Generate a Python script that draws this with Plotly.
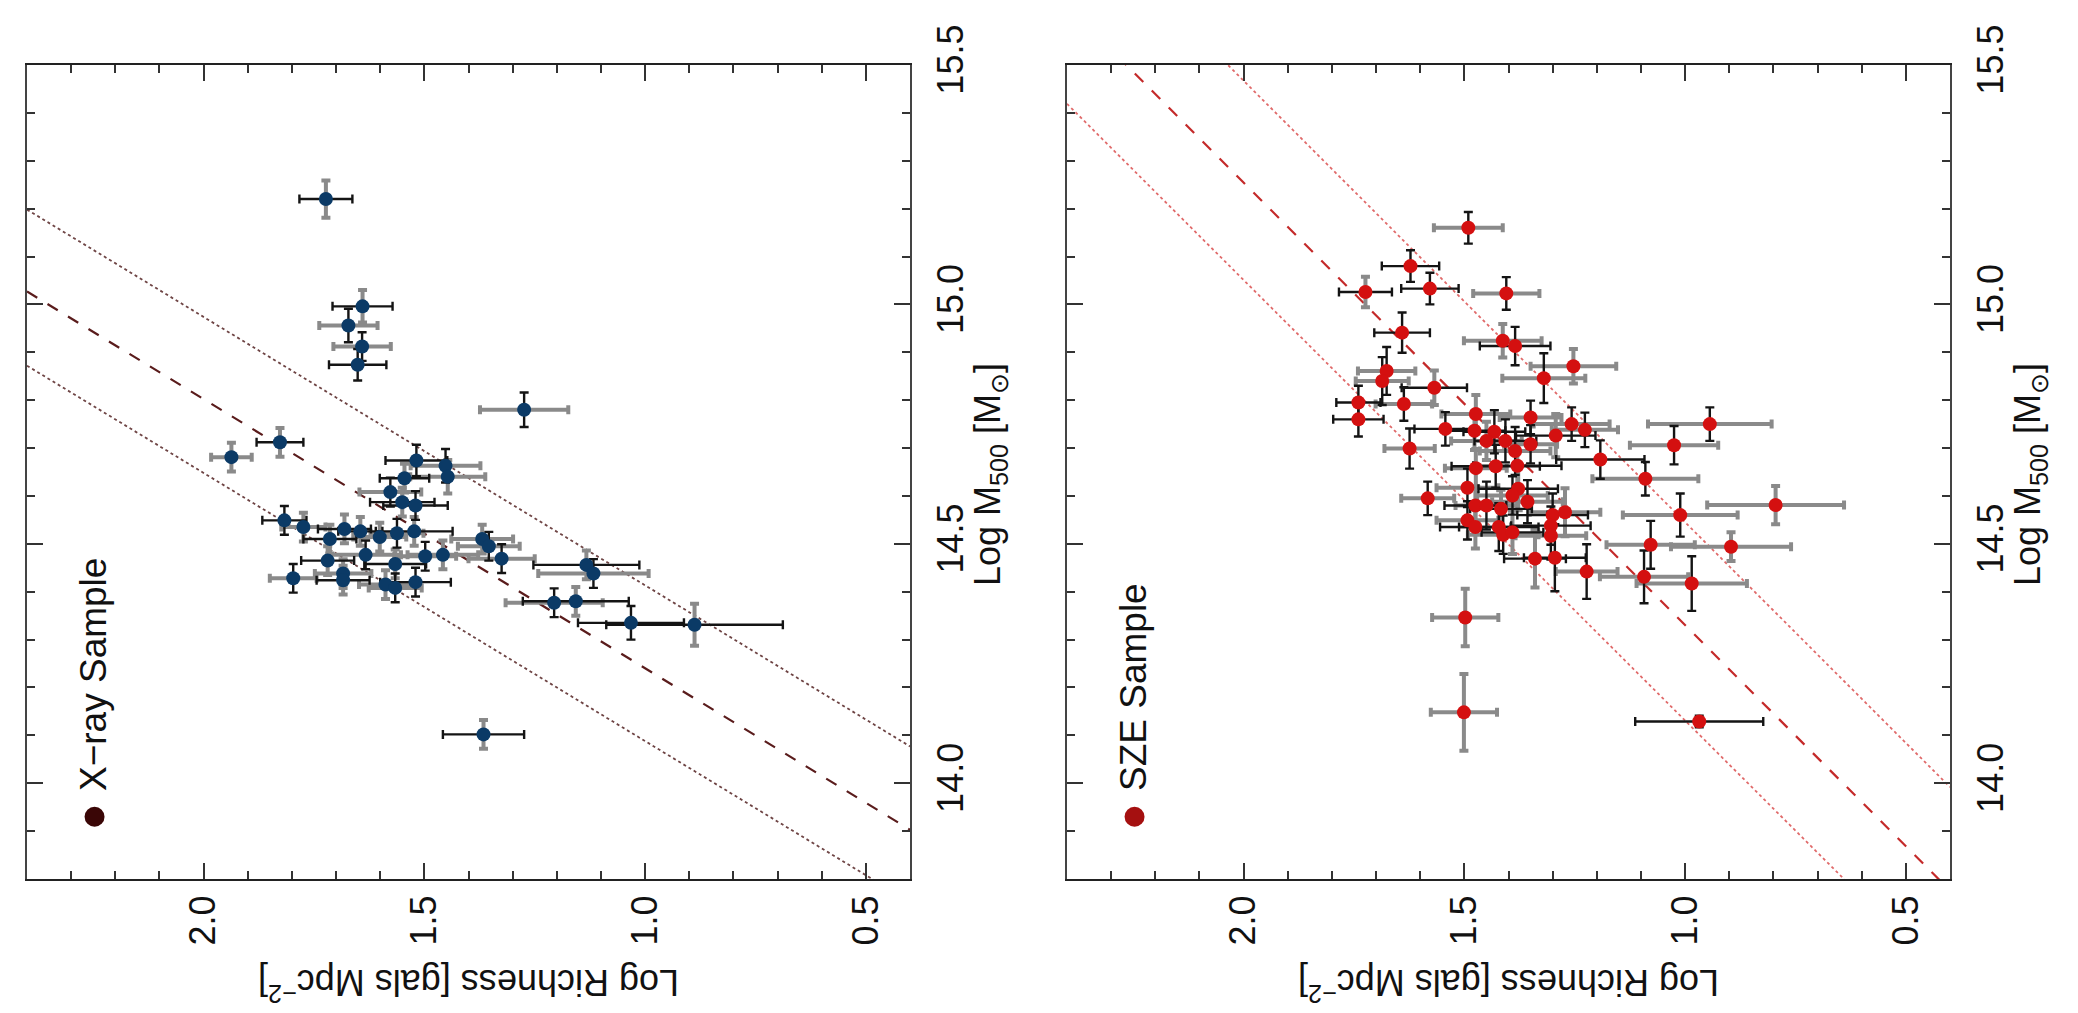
import plotly.graph_objects as go

# ---------------- X-ray sample (left panel) ----------------
xr_rich = [1.723, 1.640, 1.672, 1.641, 1.651, 1.274, 1.827, 1.937, 1.518, 1.452,
           1.447, 1.545, 1.577, 1.550, 1.520, 1.817, 1.774, 1.681, 1.645, 1.714,
           1.601, 1.562, 1.523, 1.369, 1.354, 1.719, 1.633, 1.566, 1.498, 1.458,
           1.325, 1.797, 1.684, 1.684, 1.588, 1.566, 1.520, 1.133, 1.117, 1.206,
           1.157, 1.032, 0.888, 1.366]
xr_mass = [15.220, 14.996, 14.956, 14.912, 14.874, 14.780, 14.712, 14.681, 14.674, 14.663,
           14.640, 14.637, 14.608, 14.587, 14.580, 14.549, 14.535, 14.531, 14.526, 14.510,
           14.514, 14.522, 14.526, 14.510, 14.495, 14.465, 14.477, 14.458, 14.474, 14.477,
           14.469, 14.428, 14.438, 14.424, 14.415, 14.408, 14.420, 14.456, 14.438, 14.377,
           14.380, 14.335, 14.331, 14.102]
xr_err_rich = [0.060, 0.068, 0.066, 0.065, 0.065, 0.100, 0.053, 0.046, 0.070, 0.079,
               0.085, 0.056, 0.070, 0.073, 0.073, 0.050, 0.050, 0.060, 0.050, 0.060,
               0.060, 0.060, 0.087, 0.070, 0.070, 0.060, 0.080, 0.070, 0.070, 0.080,
               0.075, 0.053, 0.064, 0.060, 0.060, 0.060, 0.080, 0.120, 0.125, 0.110,
               0.120, 0.120, 0.200, 0.092]
xr_err_mass = [0.039, 0.034, 0.035, 0.030, 0.033, 0.036, 0.030, 0.030, 0.033, 0.035,
               0.035, 0.030, 0.030, 0.030, 0.030, 0.030, 0.030, 0.030, 0.030, 0.030,
               0.030, 0.030, 0.030, 0.030, 0.030, 0.030, 0.030, 0.030, 0.030, 0.030,
               0.030, 0.030, 0.030, 0.030, 0.030, 0.030, 0.030, 0.030, 0.030, 0.030,
               0.030, 0.035, 0.044, 0.030]
# error-bar shade per point: g = grey, k = black
xr_shade_rich = "kkggkgkgkg" "gkgkkkgkkk" "ggkggkgkgg" "gggkggkkgg" "kkkk"
xr_shade_mass = "ggkkkkggkk" "ggkgkkgggg" "gkggkgkgkg" "kkgggkkgkk" "gkgg"
xr_fit_rich = [2.4, 0.4]
xr_fit_mass = [15.027, 13.903]
xr_fit_upper = [15.198, 14.077]
xr_fit_lower = [14.872, 13.752]

# ---------------- SZE sample (right panel) ----------------
sz_rich = [1.491, 1.622, 1.724, 1.578, 1.405, 1.641, 1.413, 1.385, 1.253, 1.676,
           1.686, 1.320, 1.568, 1.740, 1.637, 1.740, 0.944, 1.025, 1.624, 1.192,
           1.090, 0.795, 1.583, 1.011, 1.543, 1.474, 1.350, 1.257, 1.227, 1.477,
           1.432, 1.450, 1.407, 1.350, 1.293, 1.385, 1.474, 1.429, 1.380, 1.493,
           1.378, 1.391, 1.357, 1.475, 1.450, 1.417, 1.300, 1.272, 1.493, 1.475,
           1.422, 1.412, 1.391, 1.304, 1.304, 1.078, 0.896, 1.093, 0.985, 1.340,
           1.295, 1.223, 1.498, 1.501, 0.968]
sz_mass = [15.160, 15.080, 15.026, 15.033, 15.023, 14.941, 14.924, 14.913, 14.871, 14.861,
           14.840, 14.846, 14.826, 14.795, 14.792, 14.760, 14.750, 14.706, 14.699, 14.676,
           14.636, 14.581, 14.595, 14.560, 14.740, 14.771, 14.764, 14.750, 14.738, 14.736,
           14.734, 14.715, 14.715, 14.708, 14.726, 14.694, 14.658, 14.662, 14.663, 14.617,
           14.615, 14.601, 14.588, 14.580, 14.580, 14.573, 14.560, 14.566, 14.549, 14.535,
           14.535, 14.519, 14.524, 14.538, 14.517, 14.498, 14.494, 14.431, 14.417, 14.469,
           14.471, 14.442, 14.346, 14.148, 14.129]
sz_err_rich = [0.078, 0.065, 0.060, 0.065, 0.075, 0.063, 0.088, 0.080, 0.097, 0.065,
               0.060, 0.094, 0.074, 0.050, 0.064, 0.057, 0.140, 0.100, 0.057, 0.100,
               0.120, 0.155, 0.060, 0.130, 0.070, 0.078, 0.070, 0.086, 0.075, 0.070,
               0.070, 0.080, 0.070, 0.060, 0.090, 0.080, 0.070, 0.100, 0.100, 0.070,
               0.090, 0.080, 0.080, 0.070, 0.070, 0.070, 0.080, 0.080, 0.070, 0.080,
               0.090, 0.080, 0.070, 0.090, 0.080, 0.100, 0.136, 0.100, 0.125, 0.070,
               0.070, 0.070, 0.075, 0.075, 0.145]
sz_err_mass = [0.033, 0.033, 0.032, 0.033, 0.034, 0.042, 0.035, 0.040, 0.036, 0.050,
               0.050, 0.052, 0.036, 0.035, 0.035, 0.036, 0.035, 0.040, 0.042, 0.040,
               0.035, 0.040, 0.035, 0.045, 0.035, 0.040, 0.035, 0.035, 0.036, 0.040,
               0.045, 0.040, 0.045, 0.040, 0.045, 0.050, 0.040, 0.045, 0.050, 0.040,
               0.045, 0.040, 0.045, 0.040, 0.050, 0.040, 0.045, 0.050, 0.040, 0.045,
               0.050, 0.040, 0.045, 0.040, 0.050, 0.050, 0.030, 0.055, 0.057, 0.060,
               0.070, 0.057, 0.060, 0.080, 0.012]
sz_shade_rich = "gkkkgkgkgg" "ggkkgkgggk" "ggggkggggk" "kgkgkggkkg" "kggkgkkggk" "kgkkgggggk" "kgggk"
sz_shade_mass = "kkgkkkgkgk" "kkgkkkkkkk" "kgkkkgkkkg" "kgkkgkgkgk" "gkkgkgkgkg" "kkgkkkgkkg" "kkggk"
sz_fit_rich = [2.4, 0.4]
sz_fit_mass = [15.624, 13.776]
sz_fit_upper = [15.836, 13.992]
sz_fit_lower = [15.419, 13.579]

legend_rich = 2.247
legend_mass = 13.93

FONT = "Liberation Sans, Arial, Helvetica, sans-serif"
W, H = 2078, 1013

fig = go.Figure()


def add_panel(r, m, er, em, shr, shm, color, xa, ya):
    styles = (("g", "#8a8a8a", 4.0), ("k", "#141414", 2.4))
    for flag, col, th in styles:
        for which, shades, errs in (("x", shr, er), ("y", shm, em)):
            idx = [i for i, s in enumerate(shades) if s == flag]
            if not idx:
                continue
            err = dict(type="data", array=[errs[i] for i in idx], color=col,
                       thickness=th, width=4.5, visible=True)
            kw = {"error_x": err} if which == "x" else {"error_y": err}
            fig.add_trace(go.Scatter(
                x=[r[i] for i in idx], y=[m[i] for i in idx], mode="markers",
                marker=dict(size=1, opacity=0), xaxis=xa, yaxis=ya,
                showlegend=False, hoverinfo="skip", **kw))
    fig.add_trace(go.Scatter(x=r, y=m, mode="markers",
                             marker=dict(size=14, color=color, line=dict(width=0)),
                             xaxis=xa, yaxis=ya, showlegend=False))


def add_fit(fr, fm, fu, fl, dcol, ocol, xa, ya):
    for yy, col, dash, w in ((fu, ocol, "dot", 1.8), (fl, ocol, "dot", 1.8),
                             (fm, dcol, "12px,12px", 2.2)):
        fig.add_trace(go.Scatter(x=fr, y=yy, mode="lines",
                                 line=dict(color=col, width=w, dash=dash),
                                 xaxis=xa, yaxis=ya, showlegend=False,
                                 hoverinfo="skip"))


add_fit(xr_fit_rich, xr_fit_mass, xr_fit_upper, xr_fit_lower,
        "#5a1c1c", "#6e4444", "x", "y")
add_panel(xr_rich, xr_mass, xr_err_rich, xr_err_mass, xr_shade_rich,
          xr_shade_mass, "#0b3a66", "x", "y")
add_fit(sz_fit_rich, sz_fit_mass, sz_fit_upper, sz_fit_lower,
        "#c42a2a", "#e06a6a", "x2", "y2")
add_panel(sz_rich, sz_mass, sz_err_rich, sz_err_mass, sz_shade_rich,
          sz_shade_mass, "#d41010", "x2", "y2")

# legend dots
fig.add_trace(go.Scatter(x=[legend_rich], y=[legend_mass], mode="markers",
                         marker=dict(size=20, color="#3a0606"),
                         xaxis="x", yaxis="y", showlegend=False))
fig.add_trace(go.Scatter(x=[legend_rich], y=[legend_mass], mode="markers",
                         marker=dict(size=20, color="#a51010"),
                         xaxis="x2", yaxis="y2", showlegend=False))

tickfont = dict(size=36, family=FONT, color="#111")


def xaxis(domain, anchor):
    return dict(domain=domain, anchor=anchor, range=[2.4, 0.4], dtick=0.5, tick0=0,
                tickformat=".1f", ticks="inside", ticklen=16, tickwidth=2,
                tickcolor="#333", showline=True, linecolor="#222", linewidth=2,
                mirror="ticks", showgrid=False, zeroline=False, tickangle=-90,
                tickfont=tickfont, ticklabelstandoff=0, automargin=False,
                minor=dict(dtick=0.1, tick0=0, ticks="inside", ticklen=8,
                           tickwidth=2, tickcolor="#333", showgrid=False))


def yaxis(anchor):
    return dict(domain=[1 - 879 / H, 1 - 65 / H], anchor=anchor, side="right",
                range=[13.8, 15.5], dtick=0.5, tick0=0, tickformat=".1f",
                ticks="inside", ticklen=16, tickwidth=2, tickcolor="#333",
                showline=True, linecolor="#444", linewidth=2, mirror="ticks",
                showgrid=False, zeroline=False, tickangle=-90, tickfont=tickfont,
                ticklabelstandoff=8, automargin=False,
                minor=dict(dtick=0.1, tick0=0, ticks="inside", ticklen=8,
                           tickwidth=2, tickcolor="#333", showgrid=False))


ann_font = dict(size=36, family=FONT, color="#111")
annotations = []
for left, right in ((27, 910), (1067, 1950)):
    cx = (left + right) / 2
    annotations.append(dict(x=cx / W, y=1 - 985 / H, xref="paper", yref="paper",
                            xanchor="center", yanchor="middle",
                            text="Log Richness [gals Mpc<sup>−2</sup>]",
                            textangle=180, showarrow=False, font=ann_font))
    annotations.append(dict(x=(right + 80) / W, y=1 - 475 / H, xref="paper",
                            yref="paper", xanchor="center", yanchor="middle",
                            text="Log M<sub>500</sub> [M<sub>⊙</sub>]",
                            textangle=-90, showarrow=False, font=ann_font))
annotations.append(dict(x=93 / W, y=1 - 675 / H, xref="paper", yref="paper",
                        xanchor="center", yanchor="middle",
                        text="X−ray Sample", textangle=-90, showarrow=False,
                        font=dict(size=37, family=FONT, color="#111")))
annotations.append(dict(x=1133 / W, y=1 - 687 / H, xref="paper", yref="paper",
                        xanchor="center", yanchor="middle",
                        text="SZE Sample", textangle=-90, showarrow=False,
                        font=dict(size=37, family=FONT, color="#111")))

fig.update_layout(
    width=W, height=H, margin=dict(l=0, r=0, t=0, b=0, autoexpand=False),
    paper_bgcolor="white", plot_bgcolor="white",
    xaxis=xaxis([27 / W, 910 / W], "y"),
    yaxis=yaxis("x"),
    xaxis2=xaxis([1067 / W, 1950 / W], "y2"),
    yaxis2=yaxis("x2"),
    annotations=annotations,
    showlegend=False,
)

fig.write_html("out.html")
